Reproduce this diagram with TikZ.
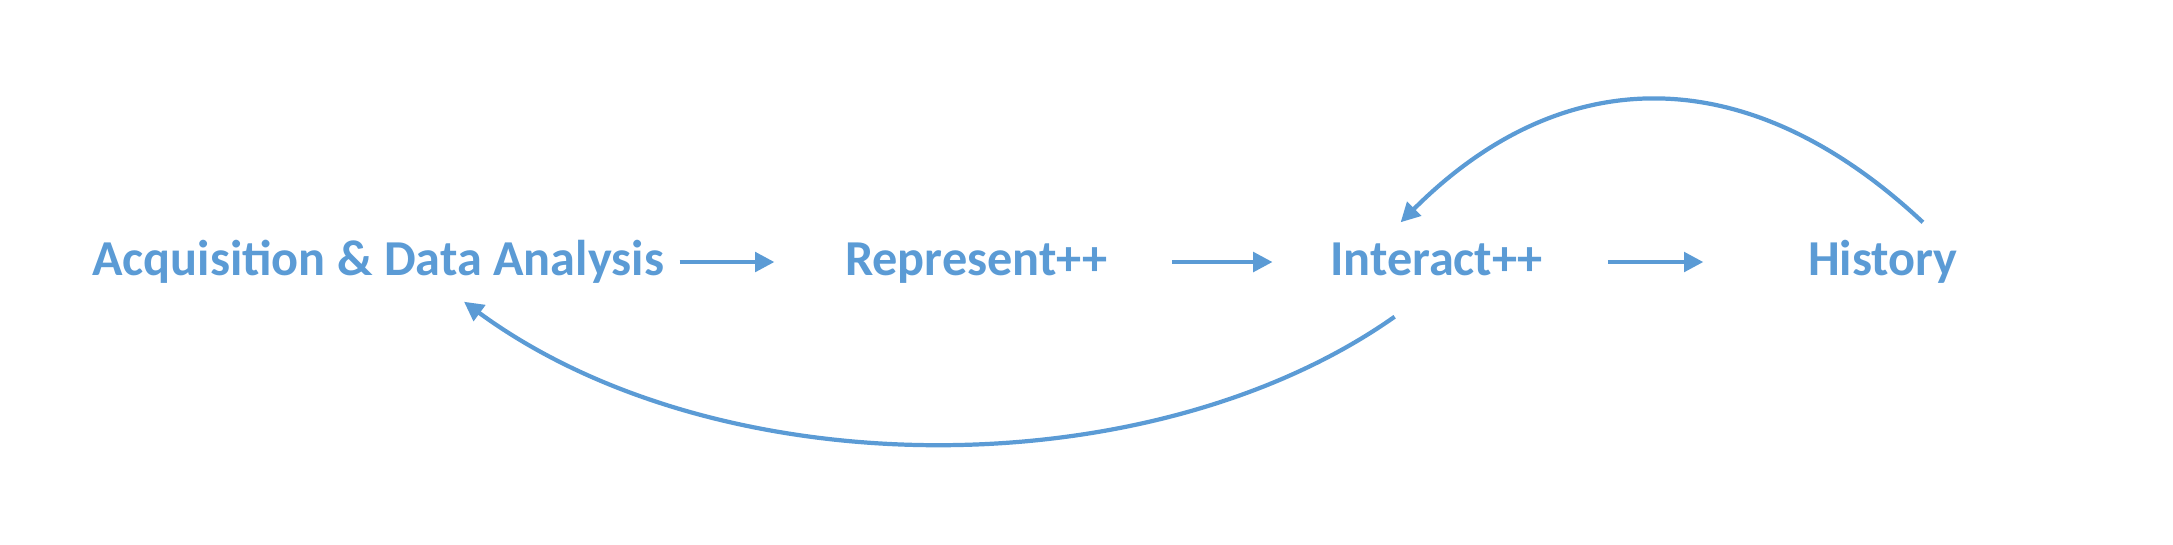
\documentclass[tikz,border=0pt]{standalone}
\usepackage{fontspec}
\setmainfont{Carlito}
\usepackage{tikz}
\usetikzlibrary{arrows.meta,calc}
\definecolor{flowblue}{HTML}{5B9BD5}
\tikzstyle{stage} = [rectangle, inner sep=0pt, text height=7.4pt, text depth=0pt,
font=\fontsize{14.3pt}{16pt}\selectfont\bfseries, text=flowblue]
\tikzstyle{arrow} = [very thick, draw=flowblue, ->, >={Triangle[length=5.5pt,width=5.5pt]}]

\begin{document}
\begin{tikzpicture}[x=0.01cm, y=-0.01cm]
    \useasboundingbox (0,0) rectangle (2173,544);
    \node (acq) [stage] at (378,262) {Acquisition \& Data Analysis};
    \node (rep) [stage, right of= acq, node distance = 5.98cm] {Represent++};
    \node (int) [stage, right of= rep, node distance = 4.60cm] {Interact++};
    \node (his) [stage, right of= int, node distance = 4.46cm] {History};
    \draw [arrow, shorten <=4.3pt, shorten >=19.9pt] (acq.east) -- (rep.west);
    \draw [arrow, shorten <=18.2pt, shorten >=16.2pt] (rep.east) -- (int.west);
    \draw [arrow, shorten <=18.2pt, shorten >=29.6pt] (int.east) -- (his.west);
\draw [arrow] ($(his.north)+(40,-26)$) .. controls +(-174,-163) and +(163,-163)
.. ($(int.north)+(-36,-26)$);
\draw [arrow] ($(int.south)+(-42,41)$) .. controls +(-244,172) and +(255,187)
.. ($(acq.south)+(86,26)$);
\end{tikzpicture}
\end{document}
